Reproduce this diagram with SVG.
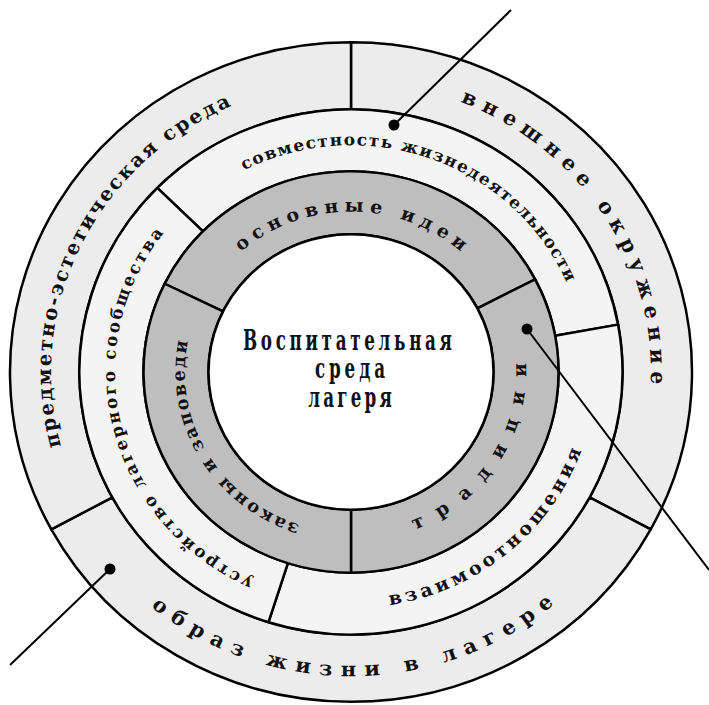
<svg xmlns="http://www.w3.org/2000/svg" xmlns:xlink="http://www.w3.org/1999/xlink" width="709" height="705" viewBox="0 0 709 705">
<style>
.seg{stroke:#000;stroke-width:2.5;stroke-linejoin:round}
.outer{fill:#ececec}
.mid{fill:#f4f4f4}
.gray{fill:#bebebe}
.lbl{font-family:"DejaVu Serif","Liberation Serif",serif;font-weight:bold;fill:#111}
.ctr{font-family:"DejaVu Serif","Liberation Serif",serif;font-weight:bold;font-size:27px;fill:#111;text-anchor:middle}
.con{stroke:#000;stroke-width:2;fill:none}
.dot{fill:#000}
</style>
<defs>
<path id="p-pred" d="M -81.9 288.6 A 300 300 0 1 1 175.7 -243.2"/>
<path id="p-vnesh" d="M -205.0 -219.1 A 300 300 0 1 1 117.7 275.9"/>
<path id="p-obraz" d="M -310.0 -52.7 A 314.5 314.5 0 1 0 309.4 -56.5"/>
<path id="p-sovm" d="M -231.1 -39.9 A 234.5 234.5 0 1 1 203.5 116.5"/>
<path id="p-vzaim" d="M -212.1 121.7 A 244.5 244.5 0 1 0 157.7 -186.9"/>
<path id="p-ustr" d="M 96.2 215.5 A 236 236 0 1 1 -16.7 -235.4"/>
<path id="p-osn" d="M -163.5 28.8 A 166 166 0 1 1 163.5 28.8"/>
<path id="p-zak" d="M 107.9 126.1 A 166 166 0 1 1 -58.3 -155.4"/>
<path id="p-trad" d="M -118.9 128.4 A 175 175 0 1 0 67.8 -161.3"/>
</defs>
<rect width="709" height="705" fill="#fff"/>
<g transform="translate(351,372) scale(1,0.967)">
<g id="vneshnee">
<path class="seg outer" d="M 0 -341 A 341 341 0 0 1 299.7 162.7 L 238.6 129.6 A 271.5 271.5 0 0 0 0 -271.5 Z"/>
<text class="lbl" font-size="21"><textPath href="#p-vnesh" xlink:href="#p-vnesh" startOffset="50%" text-anchor="middle" textLength="372" lengthAdjust="spacing">внешнее окружение</textPath></text>
</g>
<g id="obraz">
<path class="seg outer" d="M 299.7 162.7 A 341 341 0 0 1 -299.7 162.7 L -238.6 129.6 A 271.5 271.5 0 0 0 238.6 129.6 Z"/>
<text class="lbl" font-size="21"><textPath href="#p-obraz" xlink:href="#p-obraz" startOffset="50%" text-anchor="middle" textLength="438" lengthAdjust="spacing">образ жизни в лагере</textPath></text>
</g>
<g id="predmetno">
<path class="seg outer" d="M -299.7 162.7 A 341 341 0 0 1 0 -341 L 0 -271.5 A 271.5 271.5 0 0 0 -238.6 129.6 Z"/>
<text class="lbl" font-size="20"><textPath href="#p-pred" xlink:href="#p-pred" startOffset="50%" text-anchor="middle" textLength="426" lengthAdjust="spacing">предметно-эстетическая среда</textPath></text>
</g>
<g id="sovmestnost">
<path class="seg mid" d="M -193.7 -190.3 A 271.5 271.5 0 0 1 267.0 -49.0 L 204.1 -37.5 A 207.5 207.5 0 0 0 -148.0 -145.4 Z"/>
<text class="lbl" font-size="17"><textPath href="#p-sovm" xlink:href="#p-sovm" startOffset="50%" text-anchor="middle" textLength="384" lengthAdjust="spacing">совместность жизнедеятельности</textPath></text>
</g>
<g id="vzaimo">
<path class="seg mid" d="M 267.0 -49.0 A 271.5 271.5 0 0 1 -82.5 258.7 L -63.1 197.7 A 207.5 207.5 0 0 0 204.1 -37.5 Z"/>
<text class="lbl" font-size="19"><textPath href="#p-vzaim" xlink:href="#p-vzaim" startOffset="50%" text-anchor="middle" textLength="262" lengthAdjust="spacing">взаимоотношения</textPath></text>
</g>
<g id="ustroystvo">
<path class="seg mid" d="M -82.5 258.7 A 271.5 271.5 0 0 1 -193.7 -190.3 L -148.0 -145.4 A 207.5 207.5 0 0 0 -63.1 197.7 Z"/>
<text class="lbl" font-size="17"><textPath href="#p-ustr" xlink:href="#p-ustr" startOffset="50%" text-anchor="middle" textLength="425" lengthAdjust="spacing">устройство лагерного сообщества</textPath></text>
</g>
<g id="osnovnye">
<path class="seg gray" d="M -186.3 -91.3 A 207.5 207.5 0 0 1 184.1 -95.8 L 126.4 -65.8 A 142.5 142.5 0 0 0 -128.0 -62.7 Z"/>
<text class="lbl" font-size="19"><textPath href="#p-osn" xlink:href="#p-osn" startOffset="50%" text-anchor="middle" textLength="240" lengthAdjust="spacing">основные идеи</textPath></text>
</g>
<g id="tradicii">
<path class="seg gray" d="M 184.1 -95.8 A 207.5 207.5 0 0 1 0 207.5 L 0 142.5 A 142.5 142.5 0 0 0 126.4 -65.8 Z"/>
<text class="lbl" font-size="19"><textPath href="#p-trad" xlink:href="#p-trad" startOffset="50%" text-anchor="middle" textLength="219" lengthAdjust="spacing">традиции</textPath></text>
</g>
<g id="zakony">
<path class="seg gray" d="M 0 207.5 A 207.5 207.5 0 0 1 -186.3 -91.3 L -128.0 -62.7 A 142.5 142.5 0 0 0 0 142.5 Z"/>
<text class="lbl" font-size="18"><textPath href="#p-zak" xlink:href="#p-zak" startOffset="50%" text-anchor="middle" textLength="241" lengthAdjust="spacing">законы и заповеди</textPath></text>
</g>
</g>
<g id="center">
<ellipse class="seg" fill="#fff" cx="351" cy="372" rx="142.5" ry="137.8"/>
<text class="ctr" transform="translate(347.5,350) scale(0.62,1)" textLength="337" lengthAdjust="spacing">Воспитательная</text>
<text class="ctr" transform="translate(350,378) scale(0.62,1)" textLength="113" lengthAdjust="spacing">среда</text>
<text class="ctr" transform="translate(350,407) scale(0.62,1)" textLength="135" lengthAdjust="spacing">лагеря</text>
</g>
<g id="connectors">
<line class="con" x1="394" y1="125" x2="511" y2="10"/>
<circle class="dot" cx="394" cy="125" r="5.5"/>
<line class="con" x1="527" y1="329" x2="709" y2="570"/>
<circle class="dot" cx="527" cy="329" r="5.5"/>
<line class="con" x1="110" y1="569" x2="10" y2="665"/>
<circle class="dot" cx="110" cy="569" r="5.5"/>
</g>
</svg>
